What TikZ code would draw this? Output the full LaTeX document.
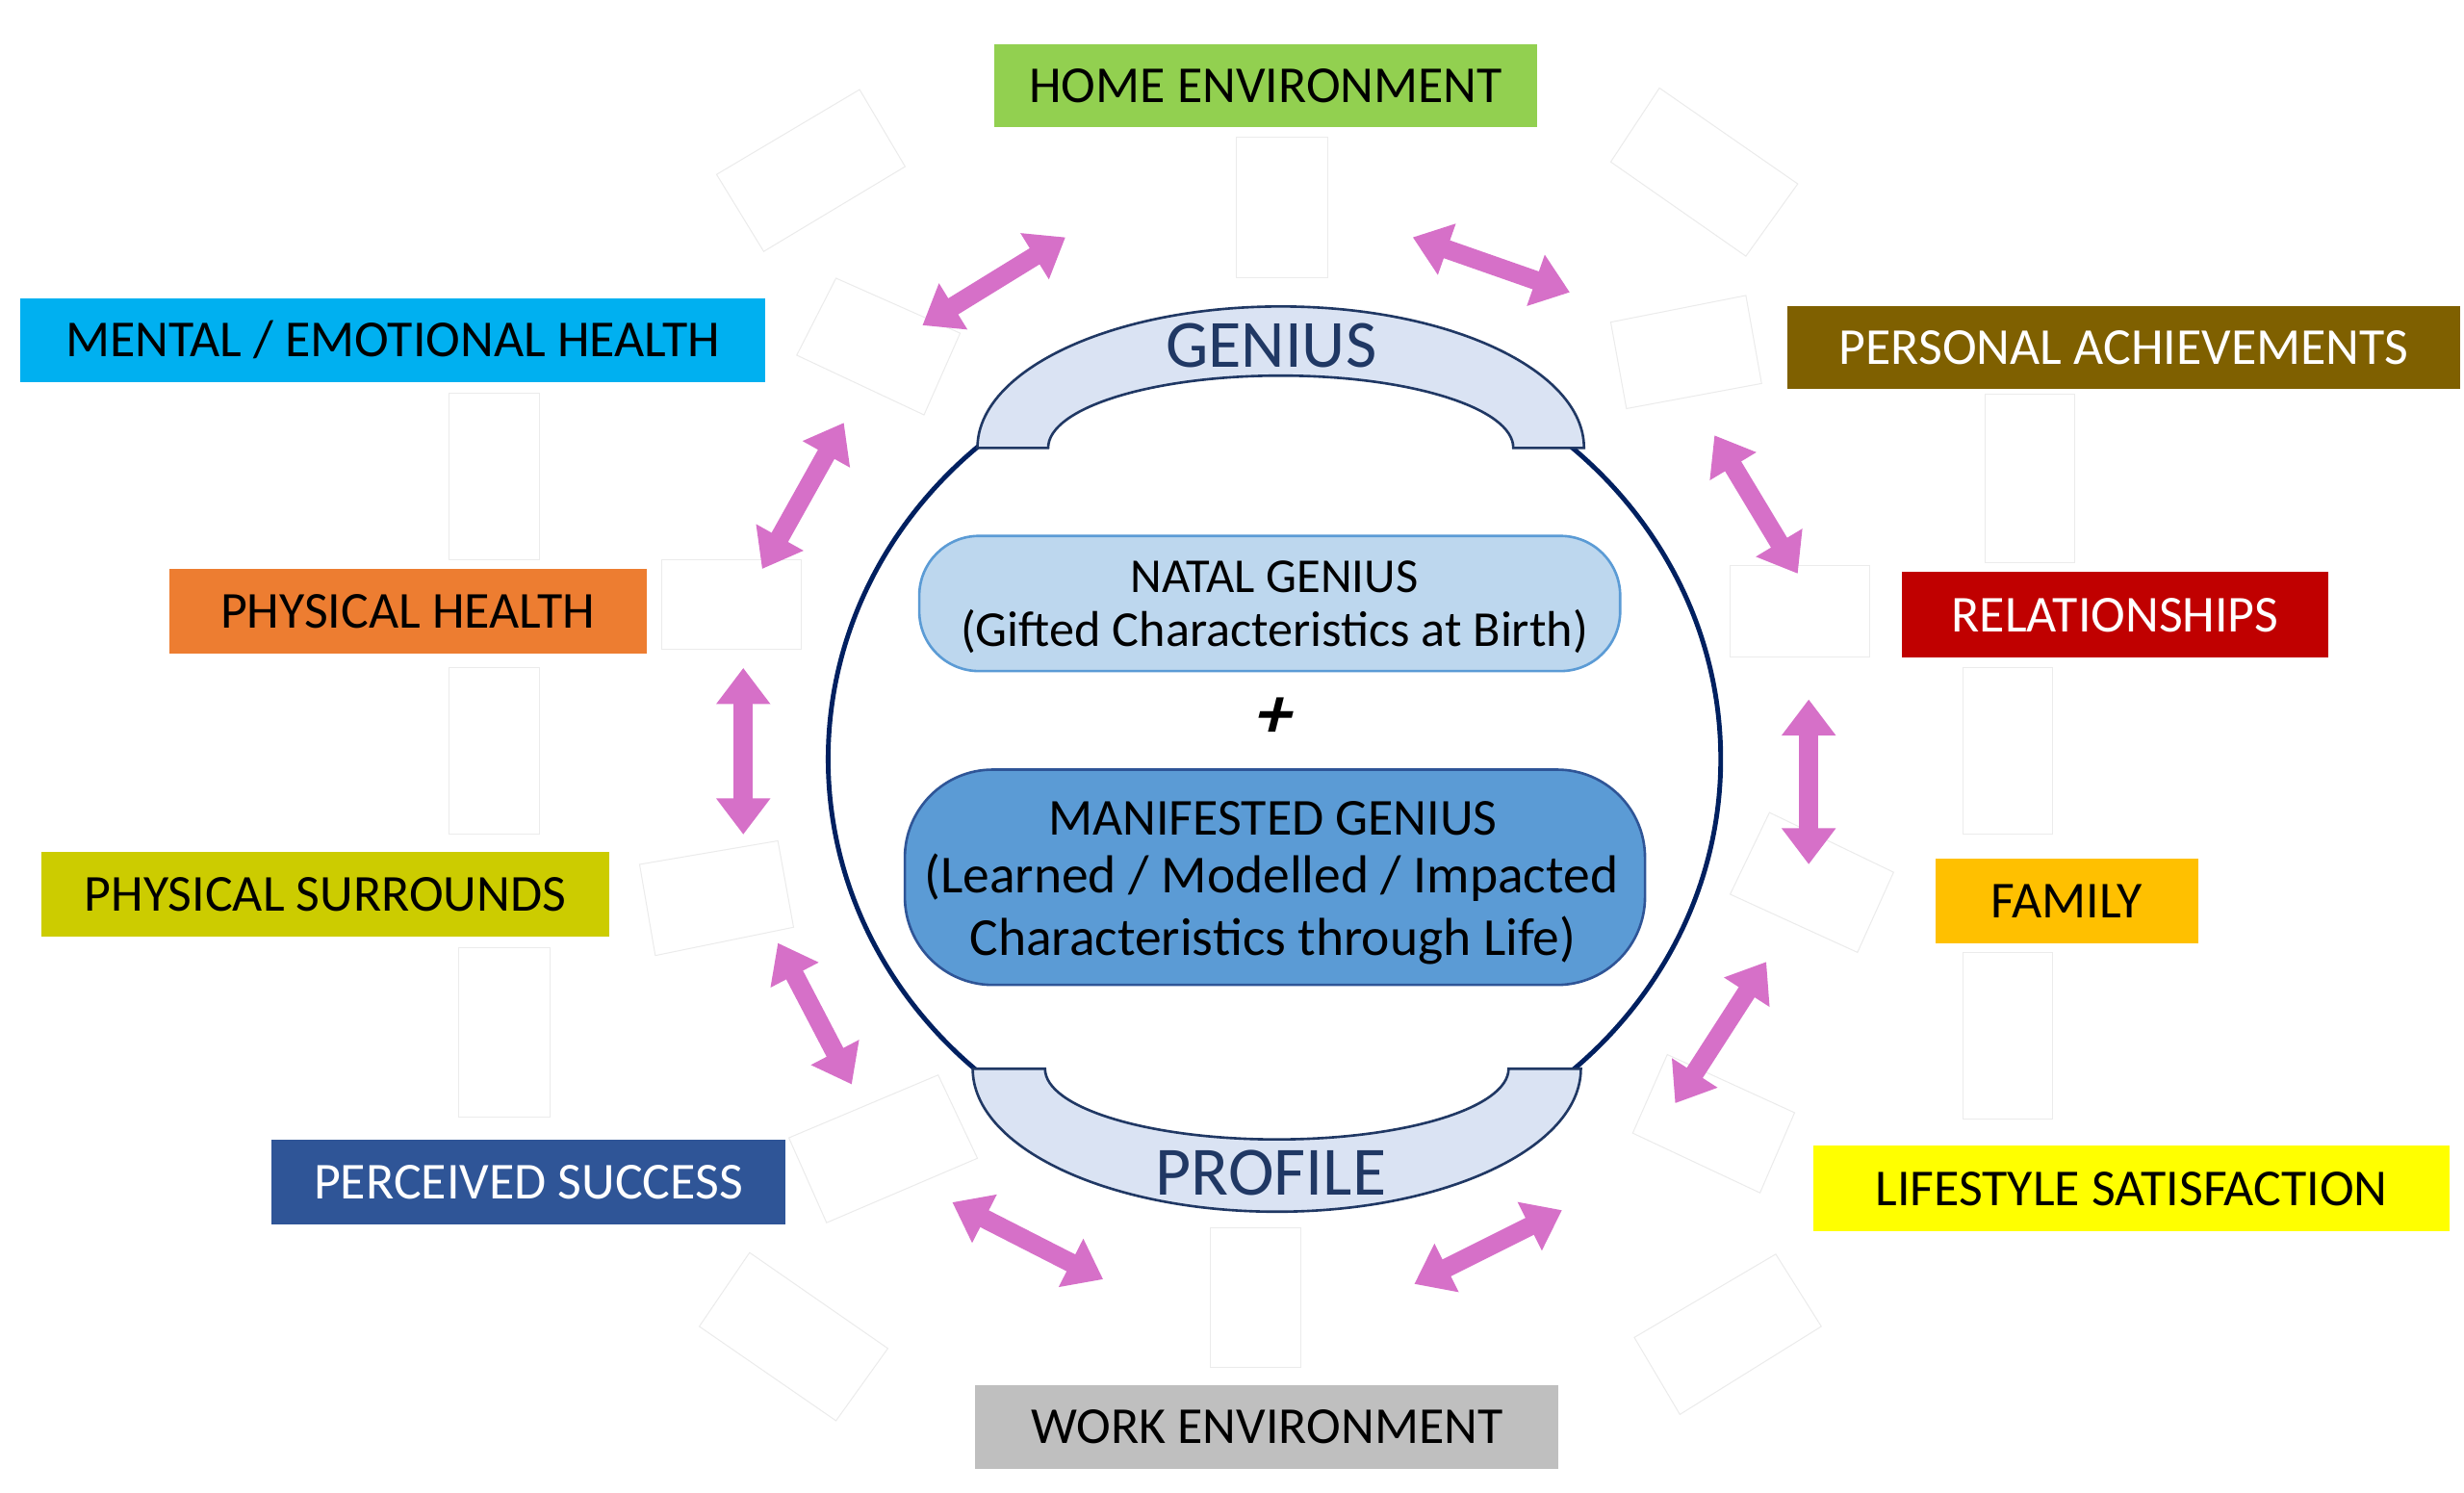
\documentclass[tikz,border=0pt]{standalone}
\usepackage{fontspec}
\setmainfont{Carlito}
\usetikzlibrary{arrows.meta}
\definecolor{cgreen}{HTML}{92D050}
\definecolor{ccyan}{HTML}{00B0F0}
\definecolor{cbrown}{HTML}{7F6000}
\definecolor{corange}{HTML}{ED7D31}
\definecolor{cred}{HTML}{C00000}
\definecolor{colive}{HTML}{CCCC00}
\definecolor{camber}{HTML}{FFC000}
\definecolor{cblue}{HTML}{2F5597}
\definecolor{cyell}{HTML}{FFFF00}
\definecolor{cgray}{HTML}{BFBFBF}
\definecolor{corchid}{HTML}{D670C8}
\definecolor{cnavy}{HTML}{002060}
\definecolor{navytext}{HTML}{203864}
\definecolor{bandfill}{HTML}{DAE3F3}
\definecolor{natalfill}{HTML}{BDD7EE}
\definecolor{natalborder}{HTML}{5B9BD5}
\definecolor{manifill}{HTML}{5B9BD5}
\definecolor{maniborder}{HTML}{2F5597}
\tikzset{
  lab/.style={inner sep=0pt, text height=21.25pt, text depth=0pt,
    font=\fontsize{33}{36}\selectfont},
  faint/.style={draw=black!8, line width=0.6pt},
  dbl/.style={draw=corchid, line width=12pt,
    {Triangle[length=23pt,width=33pt]}-{Triangle[length=23pt,width=33pt]}},
  band/.style={fill=bandfill, draw=navytext, line width=1.6pt},
  inbox/.style={line width=1.6pt, inner sep=0pt},
}
\begin{document}
\begin{tikzpicture}[x=1pt,y=-1pt]
\useasboundingbox[fill=white] (0,0) rectangle (1568,949.4);

% faint empty boxes
\draw[faint] (547,57) -- (576,106) -- (486,160) -- (456,111) -- cycle;
\draw[faint] (532,177) -- (611,212) -- (588,264) -- (507,226) -- cycle;
\draw[faint] (286,250) rectangle (343,356);
\draw[faint] (421,356) rectangle (510,413);
\draw[faint] (286,425) rectangle (343,531);
\draw[faint] (407,550) -- (495,535) -- (505,590) -- (417,608) -- cycle;
\draw[faint] (292,603) rectangle (350,711);
\draw[faint] (502,724) -- (597,684) -- (622,737) -- (526,778) -- cycle;
\draw[faint] (477,797) -- (565,858) -- (532,904) -- (445,844) -- cycle;
\draw[faint] (770,781) rectangle (828,870);
\draw[faint] (787,87) rectangle (845,177);
\draw[faint] (1056,56) -- (1144,117) -- (1111,163) -- (1025,103) -- cycle;
\draw[faint] (1025,205) -- (1111,188) -- (1121,244) -- (1035,260) -- cycle;
\draw[faint] (1263,251) rectangle (1320,358);
\draw[faint] (1101,360) rectangle (1190,418);
\draw[faint] (1249,425) rectangle (1306,531);
\draw[faint] (1126,517) -- (1205,555) -- (1182,606) -- (1101,569) -- cycle;
\draw[faint] (1249,606) rectangle (1306,712);
\draw[faint] (1061,671) -- (1142,708) -- (1120,759) -- (1039,721) -- cycle;
\draw[faint] (1130,798) -- (1159,844) -- (1069,900) -- (1040,851) -- cycle;

% labels
\node[lab, fill=cgreen, minimum width=345pt, minimum height=53pt] (home) at (805.5,54.5) {HOME ENVIRONMENT};
\node[lab, fill=ccyan, minimum width=474pt, minimum height=53pt] (mental) at (250,216.5) {MENTAL / EMOTIONAL HEALTH};
\node[lab, fill=cbrown, text=white, minimum width=428pt, minimum height=53pt] (personal) at (1351.5,221.2) {PERSONAL ACHIEVEMENTS};
\node[lab, fill=corange, minimum width=304pt, minimum height=54pt] (physh) at (259.5,389) {PHYSICAL HEALTH};
\node[lab, fill=cred, text=white, minimum width=271pt, minimum height=54.5pt] (relat) at (1346,391.3) {RELATIONSHIPS};
\node[lab, fill=colive, minimum width=361pt, minimum height=54pt] (physs) at (207,568.9) {PHYSICAL SURROUNDS};
\node[lab, fill=camber, minimum width=167.5pt, minimum height=54pt] (family) at (1315.2,573.5) {FAMILY};
\node[lab, fill=cblue, text=white, minimum width=327.5pt, minimum height=54pt] (perc) at (336.25,752) {PERCEIVED SUCCESS};
\node[lab, fill=cyell, minimum width=405pt, minimum height=54.5pt] (life) at (1356.5,756.3) {LIFESTYLE SATISFACTION};
\node[lab, fill=cgray, minimum width=371pt, minimum height=53pt] (work) at (806.25,908) {WORK ENVIRONMENT};

% central ellipse
\draw[cnavy, line width=3pt] (811,483) ellipse [x radius=284, y radius=266];

% GENIUS band
\draw[band] (622,285) arc[start angle=180, end angle=360, x radius=193, y radius=90]
  -- (963,285) arc[start angle=360, end angle=180, x radius=148, y radius=46] -- cycle;
% PROFILE band
\draw[band] (619,680) arc[start angle=180, end angle=0, x radius=193.5, y radius=91]
  -- (960,680) arc[start angle=0, end angle=180, x radius=147.5, y radius=45] -- cycle;

\node[anchor=base, inner sep=0pt, text=navytext, font=\fontsize{43}{45}\selectfont] (genius) at (809,233.7) {GENIUS};
\node[anchor=base, inner sep=0pt, text=navytext, font=\fontsize{44}{46}\selectfont] (profile) at (808.8,760.5) {PROFILE};

% inner boxes
\node[inbox, draw=natalborder, fill=natalfill, rounded corners=38pt, minimum width=446pt, minimum height=86pt] (natal) at (808,384) {};
\node[anchor=base, inner sep=0pt, font=\fontsize{31}{33}\selectfont] (natalt) at (811,376.7) {NATAL GENIUS};
\node[anchor=base, inner sep=0pt, font=\fontsize{32}{34}\selectfont] (natals) at (811,411.4) {(Gifted Characteristics at Birth)};

\node[inner sep=0pt, xslant=0.25, font=\bfseries\fontsize{46}{48}\selectfont] (plus) at (811.5,456.6) {+};

\node[inbox, draw=maniborder, fill=manifill, rounded corners=56pt, minimum width=471pt, minimum height=137pt] (mani) at (811.3,558.2) {};
\node[anchor=base, inner sep=0pt, font=\fontsize{33}{35}\selectfont] (manit) at (810,531.3) {MANIFESTED GENIUS};
\node[anchor=base, inner sep=0pt, font=\fontsize{34}{36}\selectfont] (manis1) at (809,568) {(Learned / Modelled / Impacted};
\node[anchor=base, inner sep=0pt, font=\fontsize{34}{36}\selectfont] (manis2) at (810,607.7) {Characteristics through Life)};

% arrows
\coordinate (a1s) at (587,207); \coordinate (a1e) at (678,151);
\coordinate (a2s) at (899,151); \coordinate (a2e) at (999,186);
\coordinate (a3s) at (537,269); \coordinate (a3e) at (485,362);
\coordinate (a4s) at (473,425); \coordinate (a4e) at (473,531);
\coordinate (a5s) at (495,600); \coordinate (a5e) at (542,690);
\coordinate (a6s) at (606,765); \coordinate (a6e) at (702,814);
\coordinate (a7s) at (900,817); \coordinate (a7e) at (994,770);
\coordinate (a8s) at (1124,612); \coordinate (a8e) at (1066,702);
\coordinate (a9s) at (1151,445); \coordinate (a9e) at (1151,550);
\coordinate (a10s) at (1091,277); \coordinate (a10e) at (1144,365);
\foreach \i in {1,...,10} { \draw[dbl] (a\i s) -- (a\i e); }
\end{tikzpicture}
\end{document}
